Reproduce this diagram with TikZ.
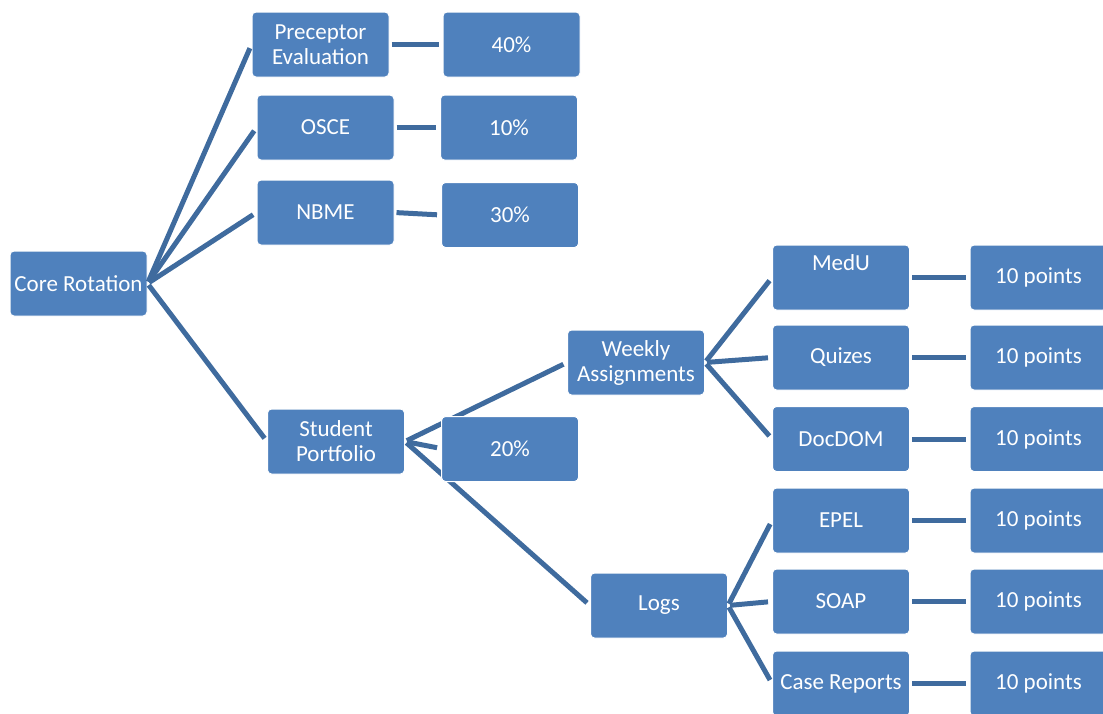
\documentclass[tikz,border=0pt]{standalone}
\usepackage{fontspec}
\setmainfont{Carlito}
\definecolor{boxblue}{HTML}{4F81BD}
\definecolor{lineblue}{HTML}{3F6B9E}
\begin{document}
\begin{tikzpicture}[x=1pt,y=-1pt,
  cbox/.style={rectangle, rounded corners=4pt, fill=boxblue, draw=white, line width=1pt,
    minimum width=137pt, minimum height=65pt, inner sep=0pt, text=white, align=center,
    font=\fontsize{23}{25}\selectfont},
  conn/.style={draw=lineblue, line width=5pt, shorten <=2pt, shorten >=4pt}]
\useasboundingbox (0,0) rectangle (1103,713);
% nodes
\node[cbox] (cr) at (78.5,283.5) {Core Rotation};
\node[cbox] (pe) at (320.5,44.5) {Preceptor\\Evaluation};
\node[cbox] (p40) at (511.5,44.5) {40\%};
\node[cbox] (os) at (325.5,127.5) {OSCE};
\node[cbox] (p10) at (509,127.5) {10\%};
\node[cbox] (nb) at (325.5,212.5) {NBME};
\node[cbox] (p30) at (510,215) {30\%};
\node[cbox] (sp) at (336,441.5) {Student\\Portfolio};
\node[cbox] (wa) at (636,362.5) {Weekly\\Assignments};
\node[cbox] (lg) at (659,605.5) {Logs};
\node[cbox] (mu) at (841,277.5) {MedU\\[5pt]\mbox{}};
\node[cbox] (qz) at (841,357.5) {Quizes};
\node[cbox] (dd) at (841,439) {DocDOM};
\node[cbox] (ep) at (841,520.5) {EPEL};
\node[cbox] (so) at (841,601.5) {SOAP};
\node[cbox] (cs) at (841,683.5) {Case Reports};
\node[cbox] (t1) at (1038.5,277.5) {10 points};
\node[cbox] (t2) at (1038.5,357.5) {10 points};
\node[cbox] (t3) at (1038.5,439) {10 points};
\node[cbox] (t4) at (1038.5,520.5) {10 points};
\node[cbox] (t5) at (1038.5,601.5) {10 points};
\node[cbox] (t6) at (1038.5,683.5) {10 points};
% connectors (behind the 20% box)
\draw[conn] (cr.east) -- (pe.west);
\draw[conn] (cr.east) -- (os.west);
\draw[conn] (cr.east) -- (nb.west);
\draw[conn] (cr.east) -- (sp.west);
\draw[conn] (pe.east) -- (p40.west);
\draw[conn] (os.east) -- (p10.west);
\draw[conn] (nb.east) -- (p30.west);
\draw[conn] (sp.east) -- (wa.west);
\draw[conn] (sp.east) -- (lg.west);
\draw[conn] (sp.east) -- ++(36,7);
\draw[conn] (wa.east) -- (mu.west);
\draw[conn] (wa.east) -- (qz.west);
\draw[conn] (wa.east) -- (dd.west);
\draw[conn] (lg.east) -- (ep.west);
\draw[conn] (lg.east) -- (so.west);
\draw[conn] (lg.east) -- (cs.west);
\draw[conn] (mu.east) -- (t1.west);
\draw[conn] (qz.east) -- (t2.west);
\draw[conn] (dd.east) -- (t3.west);
\draw[conn] (ep.east) -- (t4.west);
\draw[conn] (so.east) -- (t5.west);
\draw[conn] (cs.east) -- (t6.west);
\node[cbox] (p20) at (510,449) {20\%};
\end{tikzpicture}
\end{document}
